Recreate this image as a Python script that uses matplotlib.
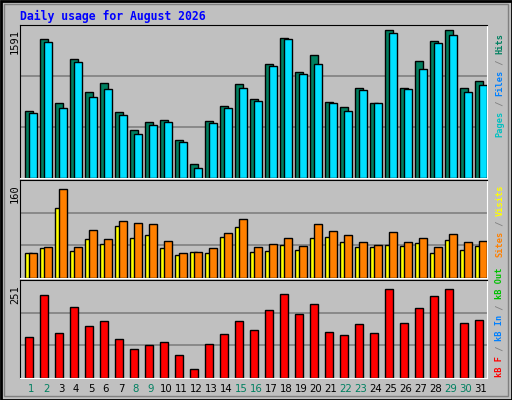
import matplotlib
matplotlib.use("Agg")
import matplotlib.pyplot as plt
from matplotlib.patches import Rectangle

days = list(range(1, 32))
hits = [727,1494,803,1278,932,1029,716,522,608,630,414,155,619,781,1008,846,1224,1505,1137,1321,824,770,965,813,1591,975,1256,1472,1591,975,1040]
files = [705,1461,749,1245,878,954,684,479,576,608,392,112,598,749,975,835,1202,1494,1116,1224,803,727,943,803,1559,954,1170,1451,1537,932,997]
visits = [45,53,125,48,70,61,93,72,77,53,41,47,45,74,91,46,48,60,51,72,74,65,56,55,60,58,63,45,68,51,58]
sites = [45,56,160,55,86,70,103,98,96,67,44,46,53,81,105,56,61,72,58,96,84,77,65,60,82,65,72,56,79,65,67]
kbytes = [114,234,127,199,147,160,111,83,94,100,64,26,97,125,160,136,191,237,180,207,130,122,152,127,251,155,196,232,251,155,163]
weekend = {1,2,8,9,15,16,22,23,29,30}

W, H = 512, 400
fig = plt.figure(figsize=(W/100, H/100), dpi=100)
fig.patch.set_facecolor("#C0C0C0")
fig.add_artist(Rectangle((0.5/W, 0.5/H), 1-1/W, 1-1/H, transform=fig.transFigure, fill=False, ec="black", lw=2))
fig.add_artist(Rectangle((4/W, 4/H), 1-8/W, 1-8/H, transform=fig.transFigure, fill=False, ec="#808080", lw=1))

def ax_px(x0, y0, x1, y1):
    return fig.add_axes([x0/W, 1-y1/H, (x1-x0)/W, (y1-y0)/H])

XL = (0.27, 31.4)

def style(ax, ymax, nlines):
    ax.set_facecolor("#C0C0C0")
    ax.set_xlim(*XL)
    ax.set_ylim(0, ymax)
    ax.set_xticks([]); ax.set_yticks([])
    for s in ["top", "left"]:
        ax.spines[s].set_color("black")
    for s in ["bottom", "right"]:
        ax.spines[s].set_color("white")
    for k in range(1, nlines+1):
        ax.axhline(ymax*k/(nlines+1), color="#808080", lw=1.2, zorder=0)

# top panel
ax1 = ax_px(20, 25, 487, 178)
ymax1 = 1591 / 0.965
style(ax1, ymax1, 2)
ax1.bar([d-0.135 for d in days], hits, width=0.53, color="#008060", ec="black", lw=1, zorder=2)
ax1.bar([d+0.135 for d in days], files, width=0.53, color="#00E0FF", ec="black", lw=1, zorder=3)

# middle panel
ax2 = ax_px(20, 180, 487, 278)
ymax2 = 160 / 0.91
style(ax2, ymax2, 2)
ax2.bar([d-0.16 for d in days], visits, width=0.48, color="#FFFF00", ec="black", lw=1, zorder=2)
ax2.bar([d+0.14 for d in days], sites, width=0.53, color="#FF8000", ec="black", lw=1, zorder=3)

# bottom panel
ax3 = ax_px(20, 280, 487, 378)
ymax3 = 251 / 0.91
style(ax3, ymax3, 2)
ax3.bar([d-0.135 for d in days], kbytes, width=0.53, color="#FF0000", ec="black", lw=1, zorder=2)

# title
fig.text(20/W, 1-16/H, "Daily usage for August 2026", color="#0000FF", family="DejaVu Sans Mono",
         weight="bold", fontsize=8.3, va="center", ha="left")

# y max labels
for txt, ytop in [("1591", 29), ("160", 184), ("251", 285)]:
    fig.text(15/W, 1-ytop/H, txt, rotation=90, family="DejaVu Sans Mono", fontsize=7.5,
             va="top", ha="center", color="black")

# day labels
for d in days:
    xpx = 20 + (d - XL[0]) / (XL[1]-XL[0]) * 467
    fig.text(xpx/W, 1-389/H, str(d), ha="center", va="center", fontsize=7.3,
             color="#008060" if d in weekend else "black")

# right legends (rotated, reading bottom to top)
FS = 6.2
CH = 0.602 * FS * 100 / 72
def legend(parts, ybottom):
    y = ybottom
    for txt, col in parts:
        fig.text(500/W, 1-y/H, txt, rotation=90, family="DejaVu Sans Mono", fontsize=FS,
                 color=col, ha="center", va="bottom", weight="bold")
        y -= CH*len(txt)

legend([("Pages", "#00C0C0"), (" / ", "#808080"), ("Files", "#0080FF"), (" / ", "#808080"), ("Hits", "#008060")], 137)
legend([("Sites", "#FF8000"), (" / ", "#808080"), ("Visits", "#FFFF00")], 257)
legend([("kB F", "#FF0000"), (" / ", "#808080"), ("kB In", "#0080FF"), (" / ", "#808080"), ("kB Out", "#00C000")], 377)

fig.savefig("out.png", dpi=100, facecolor=fig.get_facecolor())
